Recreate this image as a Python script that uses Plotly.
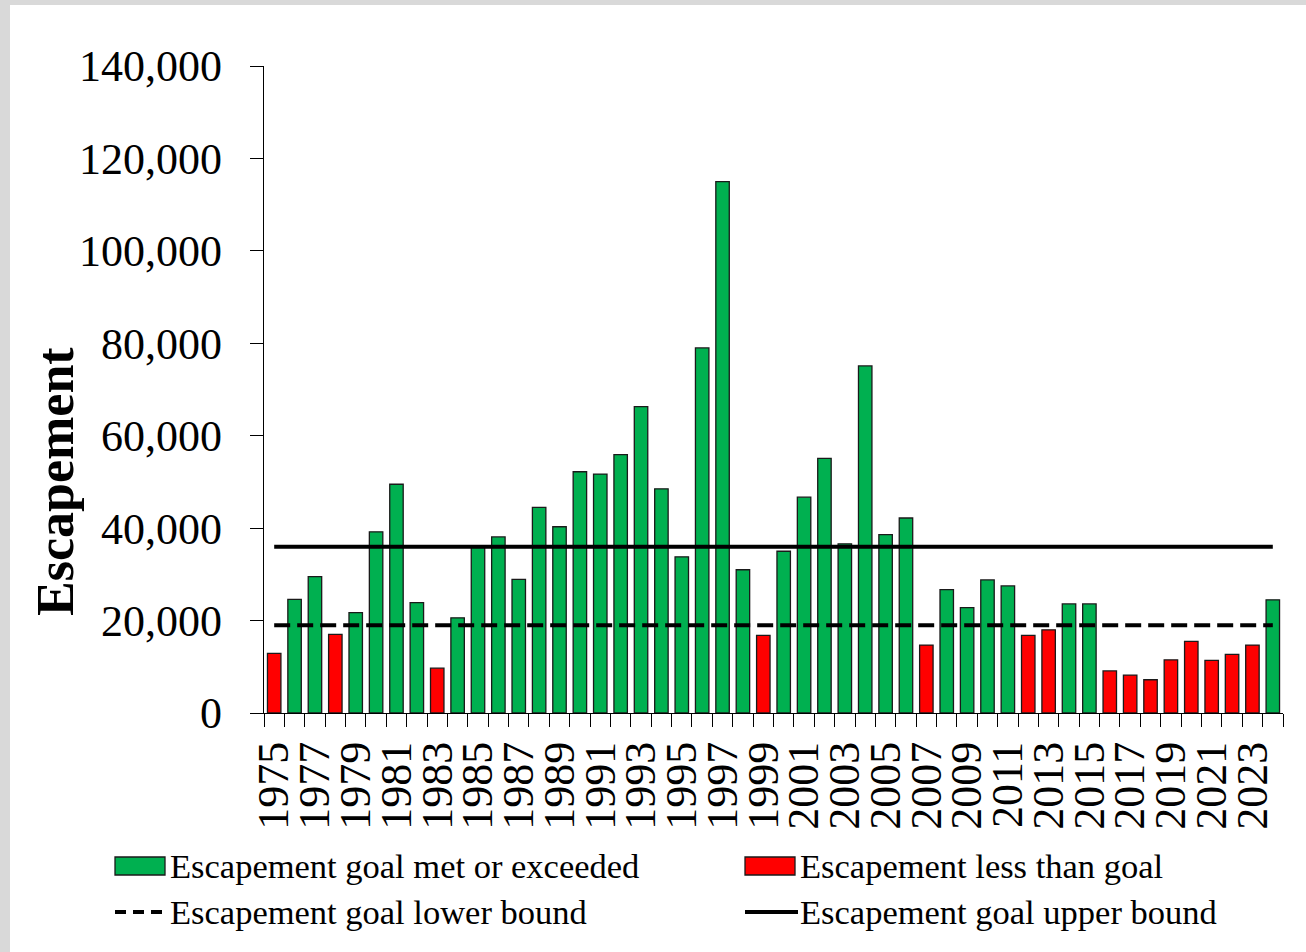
import plotly.graph_objects as go

# ---------------- data ----------------
years = list(range(1975, 2025))
escapement = [12900, 24600, 29500, 17000, 21700, 39200, 49500, 23900, 9700, 20600,
              36000, 38100, 28900, 44500, 40300, 52200, 51700, 55900, 66300, 48500,
              33800, 79000, 115000, 31000, 16800, 35000, 46700, 55100, 36600, 75100,
              38600, 42200, 14700, 26700, 22800, 28800, 27500, 16800, 18000, 23600,
              23600, 9100, 8200, 7200, 11500, 15500, 11400, 12700, 14700, 24500]
lower_bound = 19000
upper_bound = 36000
y_ticks = [0, 20000, 40000, 60000, 80000, 100000, 120000, 140000]
x_tick_text = [str(y) if (y - years[0]) % 2 == 0 else "" for y in years]

legend_labels = ["Escapement goal met or exceeded", "Escapement less than goal",
                 "Escapement goal lower bound", "Escapement goal upper bound"]

GREEN = "#00B050"
RED = "#FF0000"
FONT = "Liberation Serif, Times New Roman, serif"

# ---------------- geometry ----------------
W, H = 1306, 952
L, R, T, B = 264, 23, 66, 239
pw, ph = W - L - R, H - T - B


def px(x):
    return (x - L) / pw


def py(y):
    return (H - B - y) / ph


bar_colors = [RED if v < lower_bound else GREEN for v in escapement]

fig = go.Figure()
fig.add_trace(go.Bar(
    x=years, y=escapement,
    marker=dict(color=bar_colors, line=dict(color="#1a1a1a", width=1.3)),
    showlegend=False,
))
fig.add_trace(go.Scatter(
    x=years, y=[lower_bound] * len(years), mode="lines",
    line=dict(color="black", width=4, dash="16px,7px"),
    name=legend_labels[2], showlegend=False,
))
fig.add_trace(go.Scatter(
    x=years, y=[upper_bound] * len(years), mode="lines",
    line=dict(color="black", width=4),
    name=legend_labels[3], showlegend=False,
))

ROW1, ROW2 = 866, 912
shapes = [
    # white panel on grey frame
    dict(type="rect", xref="paper", yref="paper", layer="below",
         x0=px(10), x1=px(W + 5), y0=py(H + 5), y1=py(5),
         fillcolor="white", line=dict(width=0)),
    # legend symbols
    dict(type="rect", xref="paper", yref="paper",
         x0=px(115), x1=px(165), y0=py(ROW1 + 9), y1=py(ROW1 - 9),
         fillcolor=GREEN, line=dict(color="#1a1a1a", width=1.3)),
    dict(type="rect", xref="paper", yref="paper",
         x0=px(745), x1=px(795), y0=py(ROW1 + 9), y1=py(ROW1 - 9),
         fillcolor=RED, line=dict(color="#1a1a1a", width=1.3)),
    dict(type="line", xref="paper", yref="paper",
         x0=px(115), x1=px(168), y0=py(ROW2), y1=py(ROW2),
         line=dict(color="black", width=4, dash="11px,7px")),
    dict(type="line", xref="paper", yref="paper",
         x0=px(745), x1=px(798), y0=py(ROW2), y1=py(ROW2),
         line=dict(color="black", width=4)),
]

annotations = [
    dict(text="<b>Escapement</b>", xref="paper", yref="paper",
         x=px(55), y=py(482), textangle=-90, showarrow=False,
         xanchor="center", yanchor="middle",
         font=dict(family=FONT, size=52, color="black")),
]
leg_pos = [(168, ROW1), (798, ROW1), (168, ROW2), (798, ROW2)]
for txt, (lx, ly) in zip(legend_labels, leg_pos):
    annotations.append(dict(text=txt, xref="paper", yref="paper",
                            x=px(lx), y=py(ly), showarrow=False,
                            xanchor="left", yanchor="middle",
                            font=dict(family=FONT, size=34.5, color="black")))

fig.update_layout(
    width=W, height=H,
    margin=dict(l=L, r=R, t=T, b=B, autoexpand=False),
    paper_bgcolor="#d9d9d9",
    plot_bgcolor="white",
    bargap=0.34,
    font=dict(family=FONT, color="black"),
    shapes=shapes,
    annotations=annotations,
    showlegend=False,
    xaxis=dict(
        type="category",
        tickmode="array", tickvals=years, ticktext=x_tick_text,
        tickson="boundaries",
        ticks="outside", ticklen=13, tickcolor="black", tickwidth=1.3,
        tickangle=-90,
        tickfont=dict(family=FONT, size=44, color="black"),
        showline=True, linecolor="black", linewidth=1.3,
        showgrid=False, zeroline=False,
        ticklabelstandoff=10,
    ),
    yaxis=dict(
        range=[0, 140000],
        tickmode="array", tickvals=y_ticks, tickformat=",d",
        ticks="outside", ticklen=13, tickcolor="black", tickwidth=1.3,
        tickfont=dict(family=FONT, size=44, color="black"),
        showline=True, linecolor="black", linewidth=1.3,
        showgrid=False, zeroline=False,
        ticklabelstandoff=19,
    ),
)

fig.write_html(
    "out.html",
    config={"displayModeBar": False},
    post_script="document.body.style.margin='0px';document.body.style.overflow='hidden';",
)
